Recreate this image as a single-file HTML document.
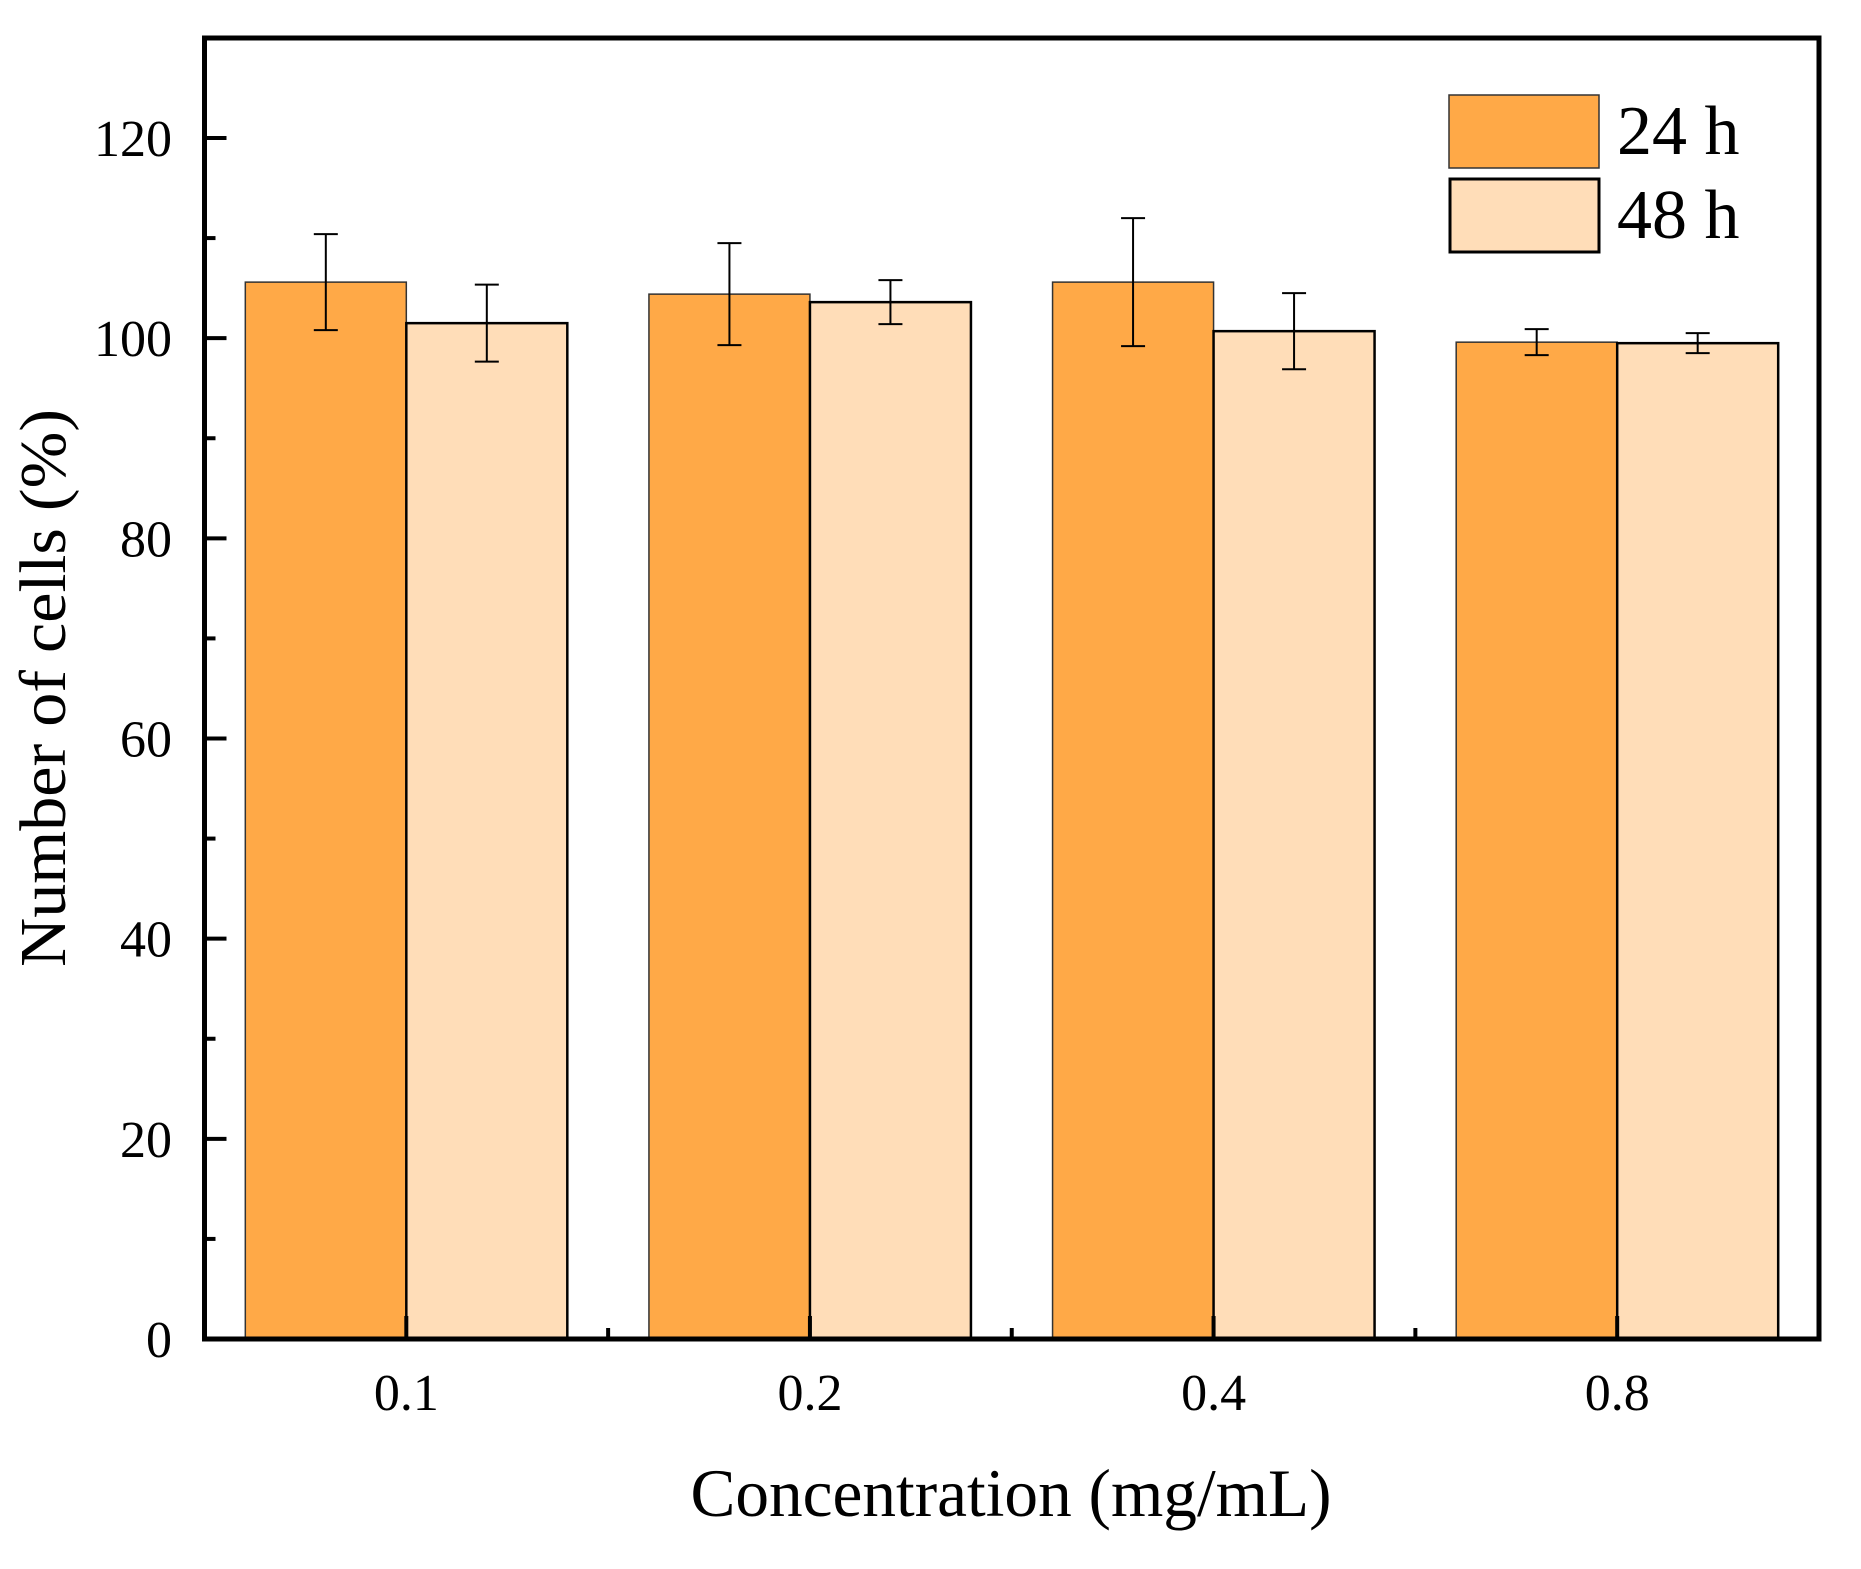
<!DOCTYPE html>
<html><head><meta charset="utf-8"><style>
html,body{margin:0;padding:0;background:#fff;}
svg{display:block;font-family:"Liberation Serif",serif;}
</style></head><body>
<svg id="chart" width="1861" height="1569" viewBox="0 0 1861 1569" xmlns="http://www.w3.org/2000/svg">
<g id="bars"></g>
<g id="axes"></g>
<g id="legend">
  <rect x="1449" y="95" width="150" height="73" fill="#FFA947" stroke="#333" stroke-width="1.5"/>
  <text x="1617" y="154" font-size="70">24 h</text>
  <rect x="1450" y="179" width="149" height="73" fill="#FFDDB8" stroke="#000" stroke-width="3"/>
  <text x="1617" y="238" font-size="70">48 h</text>
</g>
<text x="1011" y="1516" font-size="68" text-anchor="middle" textLength="641" lengthAdjust="spacingAndGlyphs">Concentration (mg/mL)</text>
<text transform="translate(65,688) rotate(-90)" font-size="66" text-anchor="middle" textLength="558" lengthAdjust="spacingAndGlyphs">Number of cells (%)</text>
</svg>
<script>
const categories = ["0.1","0.2","0.4","0.8"];
const values24 = [105.6, 104.4, 105.6, 99.6];
const err24 = [4.8, 5.1, 6.4, 1.3];
const values48 = [101.5, 103.6, 100.7, 99.5];
const err48 = [3.85, 2.2, 3.8, 1.0];
const yTicks = [0,20,40,60,80,100,120];

const NS="http://www.w3.org/2000/svg";
const L=204.5,R=1819,T=38,B=1339;
const yMin=0,yMax=130;
function y(v){return B-(v-yMin)*(B-138)/120;}
const band=(R-L)/categories.length;
function xc(i){return L+band*(i+0.5);}
const bw=161;
function mk(tag,attrs,parent){const e=document.createElementNS(NS,tag);for(const k in attrs)e.setAttribute(k,attrs[k]);parent.appendChild(e);return e;}
const gb=document.getElementById('bars'), ga=document.getElementById('axes');

function drawErr(cx,v,e,name){
  const g=mk('g',{stroke:'#000','stroke-width':2},gb);
  
  
  mk('line',{x1:cx,x2:cx,y1:y(v+e),y2:y(v-e)},g);
  mk('line',{x1:cx-12,x2:cx+12,y1:y(v+e),y2:y(v+e)},g);
  mk('line',{x1:cx-12,x2:cx+12,y1:y(v-e),y2:y(v-e)},g);
}
categories.forEach((c,i)=>{
  const cx=xc(i);
  const r1=mk('rect',{x:cx-bw,y:y(values24[i]),width:bw,height:B-y(values24[i]),fill:'#FFA947',stroke:'#333','stroke-width':1.5},gb);
  
  
  const r2=mk('rect',{x:cx,y:y(values48[i]),width:bw,height:B-y(values48[i]),fill:'#FFDDB8',stroke:'#000','stroke-width':2.5},gb);
  
  
  drawErr(cx-bw/2,values24[i],err24[i],'error-bar-24h-'+c);
  drawErr(cx+bw/2,values48[i],err48[i],'error-bar-48h-'+c);
  const ln=mk('line',{x1:cx,x2:cx,y1:B,y2:B-23,stroke:'#000','stroke-width':4},ga);
  
  
  const t=mk('text',{x:cx,y:1410,'font-size':52,'text-anchor':'middle'},ga);
  t.textContent=c;
  
  
  if(i>0){
    const m=mk('line',{x1:L+band*i,x2:L+band*i,y1:B,y2:B-11,stroke:'#000','stroke-width':4},ga);
    
    
  }
});
yTicks.forEach(v=>{
  const ln=mk('line',{x1:L,x2:L+22,y1:y(v),y2:y(v),stroke:'#000','stroke-width':4},ga);
  
  
  const t=mk('text',{x:172,y:y(v)+18,'font-size':52,'text-anchor':'end'},ga);
  t.textContent=v;
  
  
  if(v<120){
    const m=mk('line',{x1:L,x2:L+11,y1:y(v+10),y2:y(v+10),stroke:'#000','stroke-width':4},ga);
    
    
  }
});
const frame=mk('rect',{x:L,y:T,width:R-L,height:B-T,fill:'none',stroke:'#000','stroke-width':5},ga);


</script>
</body></html>
